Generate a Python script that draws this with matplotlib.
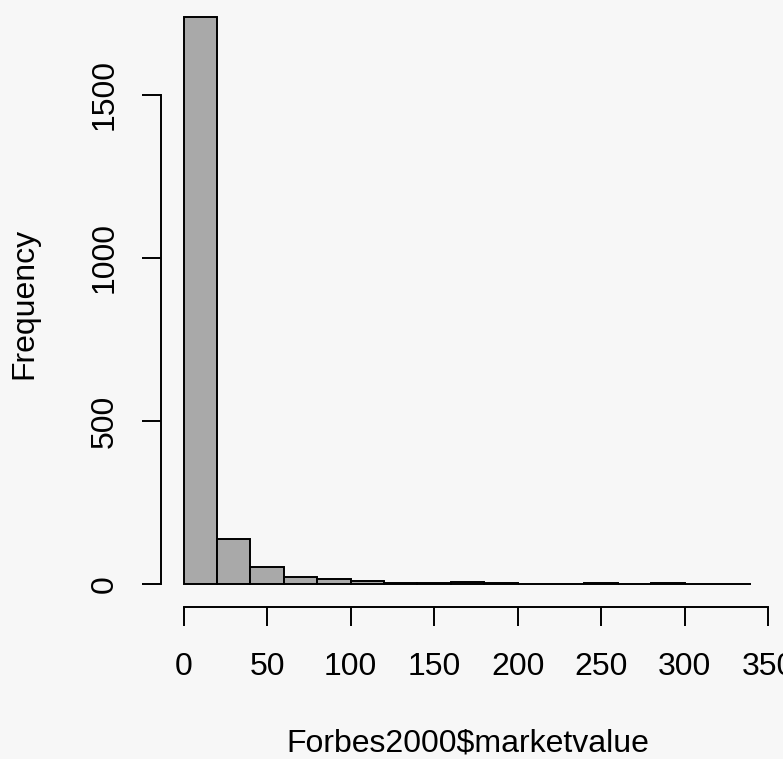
import numpy as np
import matplotlib.pyplot as plt

# histogram of Forbes2000$marketvalue, bins of width 20
bin_edges = np.arange(0, 360, 20)
counts = [1740, 137, 51, 21, 15, 9, 4, 2, 7, 3, 1, 1, 3, 1, 3, 1, 1]
x_ticks = [0, 50, 100, 150, 200, 250, 300, 350]
x_tick_labels = ["0", "50", "100", "150", "200", "250", "300", "350"]
y_ticks = [0, 500, 1000, 1500]

plt.rcParams['font.family'] = ['Liberation Sans', 'DejaVu Sans']
bg = "#f7f7f7"

fig = plt.figure(figsize=(7.83, 7.59), dpi=100, facecolor=bg)
ax = fig.add_axes([161 / 783, 152 / 759, 613 / 783, 607 / 759])
ax.set_facecolor(bg)

ax.bar(bin_edges[:-1], counts, width=20, align="edge",
       color="#a9a9a9", edgecolor="black", linewidth=1.4)

ax.set_xlim(-13.6, 353.6)
ax.set_ylim(-70.5, 1791)

for s in ["top", "right"]:
    ax.spines[s].set_visible(False)
ax.spines["left"].set_bounds(0, 1500)
ax.spines["bottom"].set_bounds(0, 350)
ax.spines["left"].set_linewidth(1.4)
ax.spines["bottom"].set_linewidth(1.4)

ax.set_xticks(x_ticks)
ax.set_xticklabels(x_tick_labels)
ax.set_yticks(y_ticks)
ax.set_yticklabels([str(v) for v in y_ticks], rotation=90, va="center")
ax.tick_params(length=13.7, width=1.4, labelsize=23)
ax.tick_params(axis="x", pad=19)
ax.tick_params(axis="y", pad=16)

ax.set_xlabel("Forbes2000$marketvalue", fontsize=23, labelpad=33)
ax.set_ylabel("Frequency", fontsize=23, labelpad=36.5)

fig.savefig("out.png", dpi=100, facecolor=bg)
